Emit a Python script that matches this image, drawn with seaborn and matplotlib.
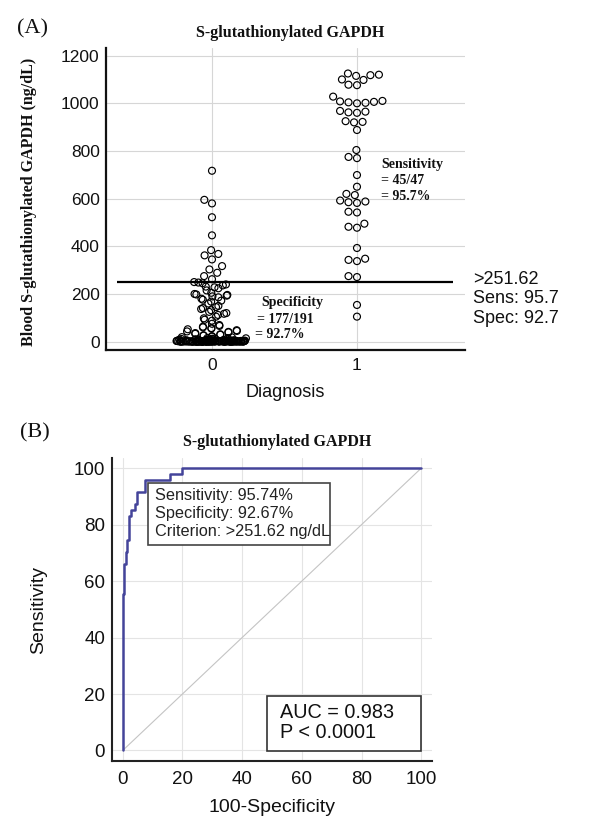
import numpy as np
import pandas as pd
import matplotlib
matplotlib.use("Agg")
import matplotlib.pyplot as plt
from matplotlib.ticker import MultipleLocator
from matplotlib.patches import Rectangle
import seaborn as sns

# ---- panel A: blood S-glutathionylated GAPDH (ng/dL) by diagnosis ----
# diagnosis 0 (n=191): above the cut-off, the scattered middle, the low band and the pile near zero
group0_high = [717, 595, 580, 522, 446, 384, 368, 362, 345, 317, 303, 289, 275, 262]
group0_mid = [250, 248, 245, 240, 236, 231, 228, 224, 215, 205,
              200, 198, 196, 193, 190, 186, 180, 176, 172, 168,
              160, 150, 145, 141, 137, 132, 125, 120, 117, 112,
              105, 98, 92, 88, 75]
group0_band = [70, 66, 63, 60, 57, 55, 52, 48, 45, 43,
               41, 39, 36, 33, 31, 29, 27, 25, 23, 21]
group0_pile = [19, 18, 16, 15, 14, 13, 12, 11, 10,
               0.2, 0.5, 0.8, 1.1, 0.3, 0.0, 0.6, 1.4, 2.0, 0.9,
               1.7, 0.4, 2.3, 0.1, 1.2, 3.1, 0.7, 2.6, 1.0, 0.2,
               4.2, 0.3, 1.5, 0.0, 2.8, 0.6, 3.5, 0.9, 1.3, 5.0,
               0.1, 2.1, 0.4, 6.2, 1.8, 0.0, 3.8, 0.7, 2.4, 1.1,
               0.5, 7.1, 0.2, 1.6, 4.6, 0.8, 2.9, 0.0, 1.9, 5.5,
               0.3, 3.3, 1.2, 0.6, 8.0, 2.2, 0.1, 4.0, 1.4, 0.9,
               6.8, 0.4, 2.7, 0.0, 1.0, 3.6, 0.7, 5.2, 1.7, 0.2,
               2.5, 0.5, 7.6, 1.3, 0.0, 4.4, 0.8, 3.0, 1.5, 0.3,
               6.0, 2.0, 0.6, 8.7, 1.1, 0.1, 3.9, 0.9, 2.6, 4.8,
               0.4, 1.8, 0.0, 5.8, 2.3, 0.7, 9.2, 1.6, 0.2, 3.4,
               0.5, 7.3, 1.2, 0.8]
# diagnosis 1 (n=47)
group1 = [1125, 1120, 1118, 1115, 1100, 1098, 1078, 1076, 1028, 1010,
          1008, 1006, 1004, 1002, 1000, 968, 965, 962, 960, 925,
          922, 920, 888, 804, 775, 770, 699, 650, 620, 615,
          592, 588, 585, 582, 545, 542, 495, 482, 478, 393,
          348, 343, 338, 275, 271, 154, 105]
cutoff = 251.62
cutoff_lines = [">251.62", "Sens: 95.7", "Spec: 92.7"]
spec_lines = ["Specificity", "= 177/191", "= 92.7%"]
sens_lines = ["Sensitivity", "= 45/47", "= 95.7%"]

# ---- panel B: ROC curve operating points (false positives / true positives) ----
n_neg = 191
n_pos = 47
roc_fp = [0, 0, 1, 2, 3, 4, 5, 8, 9, 14, 30, 38, 191]
roc_tp = [0, 26, 31, 33, 35, 39, 40, 41, 43, 45, 46, 47, 47]
roc_box = ["Sensitivity: 95.74%", "Specificity: 92.67%", "Criterion: >251.62 ng/dL"]
auc_box = ["AUC = 0.983", "P < 0.0001"]

title = "S-glutathionylated GAPDH"

sns.set_theme(style="white")
plt.rcParams["font.family"] = ["Liberation Sans", "DejaVu Sans"]
SERIF = ["Liberation Serif", "DejaVu Serif"]
np.random.seed(7)  # jitter of the crowded pile near zero only

fig = plt.figure(figsize=(5.96, 8.4), dpi=100)
W, H = 596, 840

# =================== panel A ===================
ax1 = fig.add_axes([106 / W, 1 - 350 / H, 359 / W, 302 / H])

swarm_df = pd.DataFrame({
    "diagnosis": ["0"] * len(group0_high) + ["1"] * len(group1),
    "value": group0_high + group1,
})
pile_df = pd.DataFrame({"diagnosis": ["0"] * len(group0_pile), "value": group0_pile})

ax1.set_ylim(-35, 1232)
sns.stripplot(data=pile_df, x="diagnosis", y="value", order=["0", "1"],
              jitter=0.245, size=5, color="black", linewidth=0.8, ax=ax1)
# crowded values overlap in the original dot plot: two interleaved swarms each
for vals in (group0_band, group0_mid):
    for part in (vals[::2], vals[1::2]):
        sns.swarmplot(x=["0"] * len(part), y=part, order=["0", "1"],
                      size=5, color="black", linewidth=0.8, ax=ax1)
sns.swarmplot(data=swarm_df, x="diagnosis", y="value", order=["0", "1"],
              size=5, color="black", linewidth=0.8, ax=ax1)
for coll in ax1.collections:
    coll.set_facecolor("none")
    coll.set_edgecolor("black")
    coll.set_linewidth(0.85)

ax1.hlines(cutoff, -0.655, 1.662, color="black", lw=1.6, zorder=5)
ax1.set_xlim(-0.731, 1.745)
ax1.set_ylim(-35, 1232)
ax1.set_yticks(range(0, 1201, 200))
ax1.yaxis.set_minor_locator(MultipleLocator(100))
ax1.grid(True, color="#d6d6d6", lw=0.8)
ax1.set_axisbelow(True)
for s in ["top", "right"]:
    ax1.spines[s].set_visible(False)
for s in ["left", "bottom"]:
    ax1.spines[s].set_linewidth(1.6)
    ax1.spines[s].set_color("#111111")
ax1.tick_params(axis="both", which="major", direction="in", length=7, width=1.2,
                color="#111111", labelsize=12.5, labelcolor="#111111")
ax1.tick_params(axis="y", which="major", pad=4.5)
ax1.tick_params(axis="x", which="major", length=5, pad=6)
ax1.tick_params(axis="y", which="minor", direction="in", length=4, width=1.0, color="#111111")
ax1.set_xlabel("Diagnosis", fontsize=13, labelpad=8, color="#111111")
ax1.set_ylabel("")

for txt, yv in zip(cutoff_lines, [258.8, 179, 95.2]):
    ax1.text(1.798, yv, txt, ha="left", va="center", fontsize=13, color="#111111", clip_on=False)
for txt, xv, yv in zip(spec_lines, [0.343, 0.308, 0.297], [164, 94, 28]):
    ax1.text(xv, yv, txt, ha="left", va="center", fontsize=10, fontweight="bold",
             family=SERIF, color="#111111")
for txt, yv in zip(sens_lines, [744, 678, 611]):
    ax1.text(1.166, yv, txt, ha="left", va="center", fontsize=10, fontweight="bold",
             family=SERIF, color="#111111")

fig.text(29 / W, 1 - 202 / H, "Blood S-glutathionylated GAPDH (ng/dL)", rotation=90,
         ha="center", va="center", fontsize=11.5, fontweight="bold", family=SERIF, color="#111111")
fig.text(290 / W, 1 - 33 / H, title, ha="center", va="center", fontsize=11.5,
         fontweight="bold", family=SERIF, color="#111111")
fig.text(17 / W, 1 - 29 / H, "(A)", ha="left", va="center", fontsize=16, family=SERIF, color="#111111")

# =================== panel B ===================
ax2 = fig.add_axes([112 / W, 1 - 761 / H, 320 / W, 303 / H])
roc_df = pd.DataFrame({
    "fpr": [100 * f / n_neg for f in roc_fp],
    "tpr": [100 * t / n_pos for t in roc_tp],
})
ax2.plot([0, 100], [0, 100], color="#c4c4c4", lw=0.8, zorder=2)
sns.lineplot(data=roc_df, x="fpr", y="tpr", sort=False, estimator=None,
             drawstyle="steps-post", color="#44449a", lw=1.8, ax=ax2, zorder=3)

ax2.set_xlim(-3.58, 103.6)
ax2.set_ylim(-3.72, 103.6)
ax2.set_xticks(range(0, 101, 20))
ax2.set_yticks(range(0, 101, 20))
ax2.xaxis.set_minor_locator(MultipleLocator(5))
ax2.yaxis.set_minor_locator(MultipleLocator(5))
ax2.grid(True, which="major", color="#e4e4e4", lw=0.8)
ax2.set_axisbelow(True)
for s in ["top", "right"]:
    ax2.spines[s].set_visible(False)
for s in ["left", "bottom"]:
    ax2.spines[s].set_linewidth(1.5)
    ax2.spines[s].set_color("#222222")
ax2.tick_params(axis="both", which="major", direction="in", length=6, width=1.1,
                color="#222222", labelsize=13.5, labelcolor="#111111")
ax2.tick_params(axis="both", which="minor", direction="in", length=3.5, width=0.9, color="#222222")
ax2.tick_params(axis="y", which="major", pad=5)
ax2.tick_params(axis="x", which="major", pad=7)
ax2.set_xlabel("100-Specificity", fontsize=14, labelpad=8, color="#111111")
ax2.set_ylabel("Sensitivity", fontsize=14, labelpad=19, color="#111111")

ax2.add_patch(Rectangle((8.4, 72.8), 61.0, 22.0, facecolor="white", edgecolor="#444444",
                        lw=1.2, zorder=4))
for txt, yv in zip(roc_box, [90.4, 84.1, 77.5]):
    ax2.text(10.8, yv, txt, ha="left", va="center", fontsize=11.7, color="#222222", zorder=5)
ax2.add_patch(Rectangle((48.4, -0.2), 51.5, 19.5, facecolor="white", edgecolor="#333333",
                        lw=1.2, zorder=4))
for txt, yv in zip(auc_box, [13.6, 6.2]):
    ax2.text(52.7, yv, txt, ha="left", va="center", fontsize=14.3, color="#111111", zorder=5)

fig.text(277 / W, 1 - 442 / H, title, ha="center", va="center", fontsize=11.5,
         fontweight="bold", family=SERIF, color="#111111")
fig.text(20 / W, 1 - 433 / H, "(B)", ha="left", va="center", fontsize=16, family=SERIF, color="#111111")

fig.savefig("out.png", dpi=100)
